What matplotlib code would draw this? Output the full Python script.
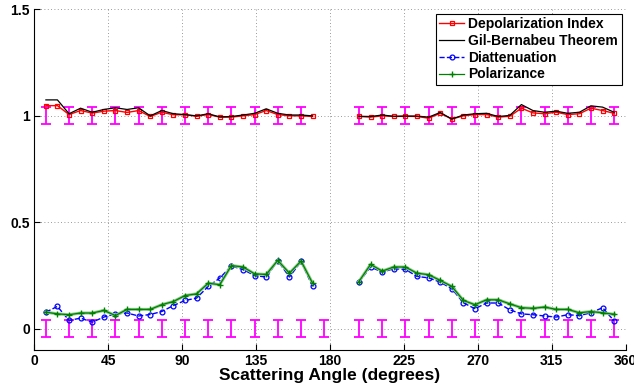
import matplotlib
matplotlib.use("Agg")
from matplotlib import pyplot as plt

plt.rcParams['font.family'] = ['Liberation Sans', 'DejaVu Sans']
plt.rcParams['font.weight'] = 'bold'

# scattering angles (degrees), two measured arcs with a gap near 180
ang_left = [7.1, 14.1, 21.2, 28.2, 35.3, 42.4, 49.4, 56.5, 63.5, 70.6, 77.6, 84.7,
            91.8, 98.8, 105.9, 112.9, 120.0, 127.1, 134.1, 141.2, 148.2, 155.3, 162.4, 169.4]
ang_right = [197.6, 204.7, 211.8, 218.8, 225.9, 232.9, 240.0, 247.1, 254.1, 261.2, 268.2, 275.3,
             282.4, 289.4, 296.5, 303.5, 310.6, 317.6, 324.7, 331.8, 338.8, 345.9, 352.9]

depol_left = [1.048, 1.048, 1.006, 1.025, 1.013, 1.022, 1.025, 1.016, 1.025, 0.997, 1.017, 1.005,
              1.005, 0.998, 1.006, 0.994, 0.994, 1.0, 1.006, 1.025, 1.006, 1.0, 1.0, 0.997]
depol_right = [0.997, 0.994, 1.0, 0.997, 0.998, 0.997, 0.989, 1.012, 0.985, 1.0, 1.006, 1.006,
               0.994, 0.998, 1.036, 1.014, 1.01, 1.017, 1.006, 1.01, 1.036, 1.025, 1.012]
gil_left = [1.075, 1.075, 1.01, 1.036, 1.017, 1.03, 1.038, 1.03, 1.038, 1.0, 1.025, 1.01,
            1.006, 1.0, 1.01, 0.995, 0.997, 1.004, 1.012, 1.033, 1.012, 1.004, 1.004, 1.0]
gil_right = [0.998, 0.997, 1.004, 0.998, 0.999, 0.999, 0.994, 1.016, 0.985, 1.004, 1.01, 1.012,
             0.997, 1.002, 1.053, 1.025, 1.017, 1.022, 1.012, 1.017, 1.047, 1.041, 1.017]
diat_left = [0.078, 0.105, 0.039, 0.05, 0.031, 0.055, 0.07, 0.074, 0.06, 0.067, 0.081, 0.109,
             0.133, 0.144, 0.199, 0.238, 0.295, 0.278, 0.25, 0.243, 0.32, 0.243, 0.316, 0.199]
diat_right = [0.219, 0.29, 0.266, 0.282, 0.279, 0.246, 0.239, 0.219, 0.188, 0.122, 0.094, 0.121,
              0.121, 0.089, 0.07, 0.066, 0.06, 0.055, 0.066, 0.062, 0.075, 0.099, 0.037]
polar_left = [0.078, 0.07, 0.066, 0.074, 0.074, 0.086, 0.062, 0.091, 0.091, 0.091, 0.113, 0.128,
              0.156, 0.164, 0.214, 0.207, 0.297, 0.29, 0.258, 0.255, 0.321, 0.261, 0.318, 0.214]
polar_right = [0.222, 0.302, 0.271, 0.29, 0.29, 0.261, 0.254, 0.227, 0.199, 0.133, 0.113, 0.136,
               0.136, 0.117, 0.099, 0.096, 0.102, 0.091, 0.091, 0.075, 0.081, 0.075, 0.068]

# error bar positions and sizes
bar_up = [7.1, 21.2, 35.3, 49.4, 63.5, 77.6, 91.8, 105.9, 120.0, 134.1, 148.2, 162.4,
          197.6, 211.8, 225.9, 240.0, 254.1, 268.2, 282.4, 296.5, 310.6, 324.7, 338.8, 352.9]
bar_low = [7.1, 21.2, 35.3, 49.4, 63.5, 77.6, 91.8, 105.9, 120.0, 134.1, 148.2, 162.4, 176.5,
           197.6, 211.8, 225.9, 240.0, 254.1, 268.2, 282.4, 296.5, 310.6, 324.7, 338.8, 352.9]
bar_err = 0.04

fig = plt.figure(figsize=(6.34, 3.92), dpi=100)
ax = fig.add_axes([0.054, 0.107, 0.933, 0.869])

ax.errorbar(bar_up, [1.0] * len(bar_up), yerr=bar_err, fmt='none', ecolor='#ff00ff',
            elinewidth=1.3, capsize=3.5, capthick=1.3, zorder=2)
ax.errorbar(bar_low, [0.0] * len(bar_low), yerr=bar_err, fmt='none', ecolor='#ff00ff',
            elinewidth=1.3, capsize=3.5, capthick=1.3, zorder=2)

for i, (xs, d, g, b, p) in enumerate([(ang_left, depol_left, gil_left, diat_left, polar_left),
                                       (ang_right, depol_right, gil_right, diat_right, polar_right)]):
    ax.plot(xs, d, '-s', color='red', mfc='none', ms=3.5, lw=1.0, mew=0.9,
            label='Depolarization Index' if i == 0 else None, zorder=4)
    ax.plot(xs, g, '-', color='black', lw=0.9,
            label='Gil-Bernabeu Theorem' if i == 0 else None, zorder=5)
    ax.plot(xs, b, '--o', color='blue', mfc='none', ms=3.5, lw=1.0, mew=0.9,
            label='Diattenuation' if i == 0 else None, zorder=3)
    ax.plot(xs, p, '-', color='#8fcc8f', lw=2.2, zorder=3)
    ax.plot(xs, p, '-+', color='#008000', ms=4.5, lw=0.9,
            label='Polarizance' if i == 0 else None, zorder=4)

ax.set_xlim(0, 360)
ax.set_ylim(-0.1, 1.5)
ax.set_xticks([0, 45, 90, 135, 180, 225, 270, 315, 360])
ax.set_yticks([0, 0.5, 1, 1.5])
ax.set_yticklabels(['0', '0.5', '1', '1.5'])
ax.tick_params(direction='in', length=4, labelsize=10, width=0.8, pad=3)
ax.grid(True, color='0.25', linestyle=(0, (1, 3)), lw=0.6, alpha=0.7)
ax.spines['top'].set_visible(False)
ax.spines['right'].set_visible(False)
ax.set_xlabel('Scattering Angle (degrees)', fontsize=12.5, fontweight='bold', labelpad=0)

leg = ax.legend(loc='upper right', fontsize=10, handlelength=1.8, handletextpad=0.3,
                borderpad=0.25, labelspacing=0.2, fancybox=False, framealpha=1,
                edgecolor='black', borderaxespad=0.3)
leg.get_frame().set_linewidth(0.8)
for t in leg.get_texts():
    t.set_fontweight('bold')

fig.savefig('out.png', dpi=100)
